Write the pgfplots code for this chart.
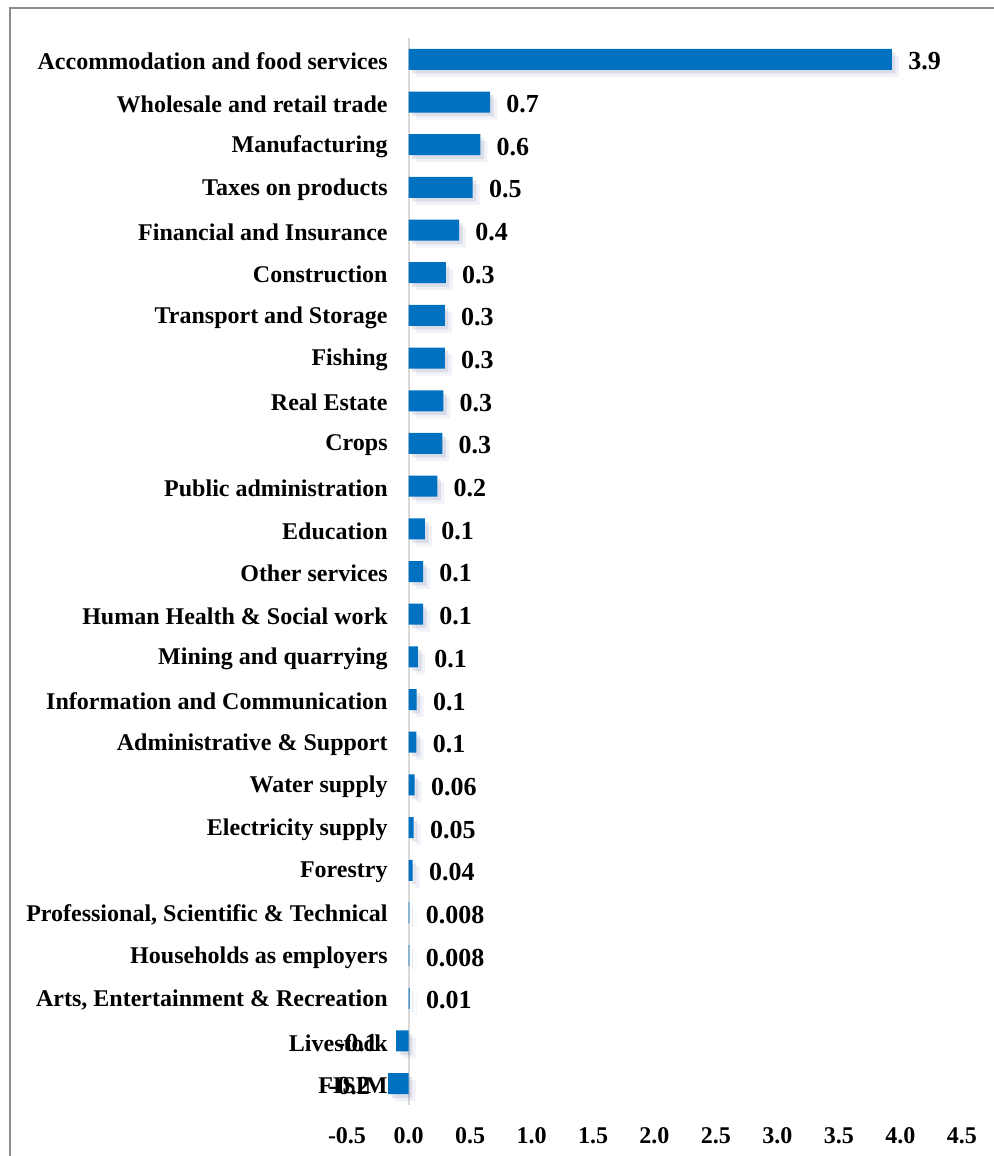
\documentclass[border=0pt]{standalone}
\usepackage{fontspec}
\setmainfont{Liberation Serif}
\usepackage{pgfplots}
\usepackage{pgfplotstable}
\pgfplotsset{compat=1.18}

\definecolor{barblue}{HTML}{0070C0}
\definecolor{framegray}{HTML}{8C8C8C}
\definecolor{zeroline}{HTML}{D9D9D9}
\definecolor{shade}{HTML}{3A4A8A}

% row index (0 = top), value, printed label
\pgfplotstableread{
y x lab
0 3.93 3.9
1 0.663 0.7
2 0.584 0.6
3 0.522 0.5
4 0.411 0.4
5 0.303 0.3
6 0.295 0.3
7 0.295 0.3
8 0.283 0.3
9 0.275 0.3
10 0.234 0.2
11 0.134 0.1
12 0.118 0.1
13 0.118 0.1
14 0.077 0.1
15 0.067 0.1
16 0.065 0.1
17 0.050 0.06
18 0.042 0.05
19 0.034 0.04
20 0.008 0.008
21 0.008 0.008
22 0.010 0.01
}\posdata

\pgfplotstableread{
y x lab
23 -0.100 -0.1
24 -0.165 -0.2
}\negdata

\pgfplotsset{
    shadowbar/.style={xbar, bar width=10.5pt, bar shift=0pt, draw=none,
        fill=shade, opacity=#1},
}

\begin{document}
\begin{tikzpicture}
\begin{axis}[
    at={(173.5pt,25.5pt)}, anchor=south west,
    scale only axis, width=307.5pt, height=533.5pt,
    xmin=-0.5, xmax=4.5, ymin=-0.5, ymax=24.5,
    y dir=reverse,
    axis line style={draw=none},
    major tick length=0pt,
    xtick={-0.5,0,0.5,1,1.5,2,2.5,3,3.5,4,4.5},
    xticklabels={-0.5,0.0,0.5,1.0,1.5,2.0,2.5,3.0,3.5,4.0,4.5},
    ytick={0,1,2,3,4,5,6,7,8,9,10,11,12,13,14,15,16,17,18,19,20,21,22,23,24},
    yticklabels={
        Accommodation and food services,
        Wholesale and retail trade,
        Manufacturing,
        Taxes on products,
        Financial and Insurance,
        Construction,
        Transport and Storage,
        Fishing,
        Real Estate,
        Crops,
        Public administration,
        Education,
        Other services,
        Human Health \& Social work,
        Mining and quarrying,
        Information and Communication,
        Administrative \& Support,
        Water supply,
        Electricity supply,
        Forestry,
        {Professional, Scientific \& Technical},
        Households as employers,
        {Arts, Entertainment \& Recreation},
        Livestock,
        FISIM},
    ticklabel style={font=\bfseries\fontsize{12}{14}\selectfont, inner sep=0pt},
    yticklabel style={anchor=east, xshift=20.5pt, yshift=-1pt},
    xticklabel style={anchor=north, yshift=-11pt},
    clip=false,
]
    \draw[zeroline, line width=1pt] (axis cs:0,-0.5) -- (axis cs:0,24.5);

    % soft shadows, two layers
    \addplot[shadowbar=0.07, xshift=3.5pt, yshift=-3.5pt] table[x=x, y=y] {\posdata};
    \addplot[shadowbar=0.07, xshift=3.5pt, yshift=-3.5pt] table[x=x, y=y] {\negdata};
    \addplot[shadowbar=0.13, xshift=1.8pt, yshift=-1.8pt] table[x=x, y=y] {\posdata};
    \addplot[shadowbar=0.13, xshift=1.8pt, yshift=-1.8pt] table[x=x, y=y] {\negdata};

    % bars with labels
    \addplot[xbar, bar width=10.5pt, bar shift=0pt, draw=none, fill=barblue,
        point meta=explicit symbolic,
        nodes near coords,
        nodes near coords style={anchor=west, inner xsep=8pt, inner ysep=0pt,
            yshift=-1pt, font=\bfseries\fontsize{13}{15}\selectfont, text=black}
    ] table[x=x, y=y, meta=lab] {\posdata};
    \addplot[xbar, bar width=10.5pt, bar shift=0pt, draw=none, fill=barblue,
        point meta=explicit symbolic,
        nodes near coords,
        nodes near coords style={anchor=east, inner xsep=9pt, inner ysep=0pt,
            yshift=-1pt, font=\bfseries\fontsize{13}{15}\selectfont, text=black}
    ] table[x=x, y=y, meta=lab] {\negdata};
\end{axis}
\draw[framegray, line width=1pt] (5pt,0pt) -- (5pt,574pt) -- (500pt,574pt);
\pgfresetboundingbox
\path[use as bounding box] (0,0) rectangle (496.5pt,578pt);
\end{tikzpicture}
\end{document}
